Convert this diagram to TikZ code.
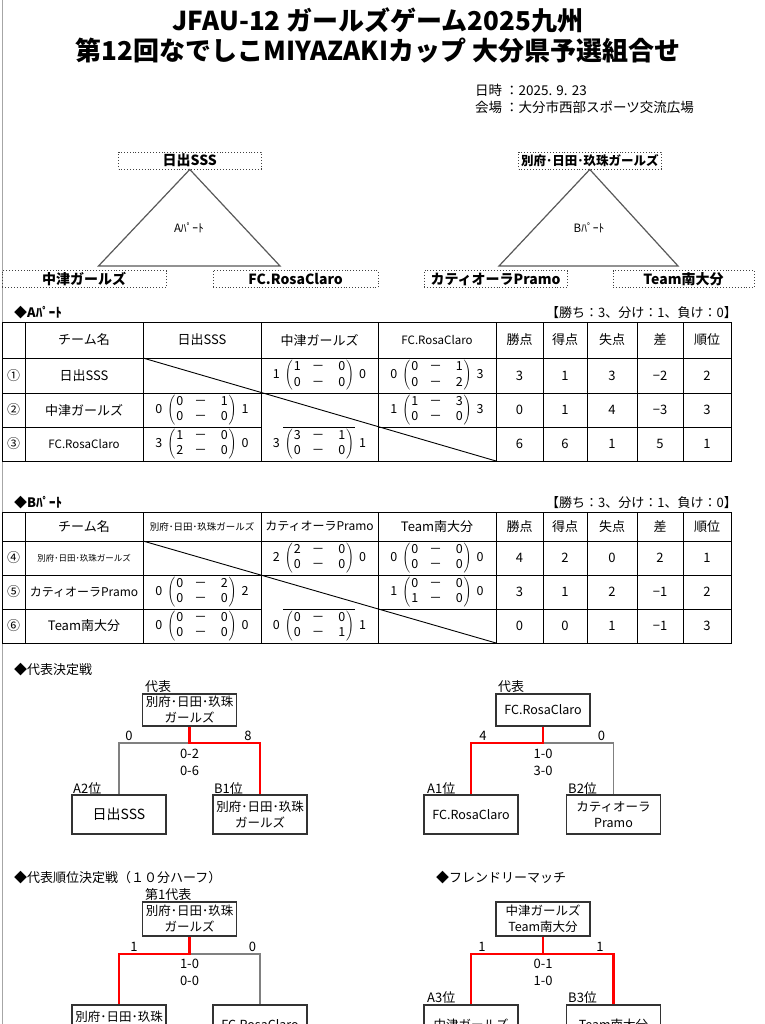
\documentclass[tikz,border=0pt]{standalone}
\usepackage{fontspec}
\setmainfont{Noto Sans CJK JP}
\newcommand\fsz[1]{\fontsize{#1pt}{#1pt}\selectfont}
% score cell: total (a - b / c - d) total
\newcommand\mscore[6]{#1\hspace{5pt}$\left(\begin{tabular}{@{\hspace{1pt}}c@{\hspace{11pt}}c@{\hspace{14pt}}c@{\hspace{1pt}}}#2&－&#3\\#4&－&#5\end{tabular}\right)$\hspace{5pt}#6}
\begin{document}
\begin{tikzpicture}
[
	x=1pt,y=-1pt,
	tm/.style={rectangle,draw=black!75,dotted,line width=0.9pt,minimum height=17pt,inner sep=0pt,font=\fsz{14}\bfseries},
	bx/.style={rectangle,draw=black!80,line width=1.1pt,minimum width=94pt,inner sep=0pt,align=center,font=\fontsize{12.5pt}{16pt}\selectfont},
	tx/.style={inner sep=0pt,font=\fsz{13}},
	sm/.style={inner sep=0pt,font=\fsz{11.5}},
	scr/.style={inner sep=0pt,font=\fontsize{12.5pt}{15.5pt}\selectfont},
	hd/.style={inner sep=0pt,anchor=west,font=\fsz{13}\bfseries},
	tri/.style={draw=black!65,line width=1.2pt},
	gl/.style={draw=black!50,line width=1.6pt},
	rl/.style={draw=red,line width=2.6pt},
	tl/.style={line width=0.9pt}
]

\useasboundingbox (0,0) rectangle (764,1024);
\fill[white] (0,0) rectangle (764,1024);
\draw[black!35,line width=0.8pt] (2,0) -- (2,1024);

% title
\node[font=\fsz{26}\bfseries] (ttl1) at (378,20) {JFAU-12 ガールズゲーム2025九州};
\node[font=\fsz{26}\bfseries] (ttl2) at (378,51) {第12回なでしこMIYAZAKIカップ 大分県予選組合せ};
\node[anchor=west,inner sep=0pt,font=\fontsize{13.5pt}{17pt}\selectfont] (info) at (475,101)
	{\begin{tabular}{@{}l@{\ }l@{}}日時&：2025. 9. 23\\会場&：大分市西部スポーツ交流広場\end{tabular}};

% triangles
\node[tm,minimum width=142.5pt] (a1) at (189.8,160.5) {日出SSS};
\node[tm,minimum width=163.5pt] (a2) at (84.2,279) {中津ガールズ};
\node[tm,minimum width=165pt] (a3) at (295.5,279) {FC.RosaClaro};
\draw[tri] (a1.south) -- (98.5,266) -- (280,266) -- cycle;
\node[sm] (pa) at (189,228) {Aﾊﾟｰﾄ};

\node[tm,minimum width=142.5pt,font=\fsz{12.5}\bfseries] (b1) at (589.8,160.5) {別府･日田･玖珠ガールズ};
\node[tm,minimum width=143pt] (b2) at (495.5,279) {カティオーラPramo};
\node[tm,minimum width=141pt] (b3) at (683.5,279) {Team南大分};
\draw[tri] (b1.south) -- (499,266) -- (678,266) -- cycle;
\node[sm] (pb) at (589,228) {Bﾊﾟｰﾄ};

% table A
\node[hd] (ha) at (14,313) {◆Aﾊﾟｰﾄ};
\node[tx,anchor=east] (ra) at (737,313) {【勝ち：3、分け：1、負け：0】};

\draw[tl] (2,322) rectangle (731,461);
\draw[tl] (2,358) -- (731,358);
\draw[tl] (2,393) -- (731,393);
\draw[tl] (2,427) -- (261,427);
\draw[tl] (283,427) -- (355,427);
\draw[tl] (378,427) -- (731,427);
\draw[tl] (25,322) -- (25,461);
\draw[tl] (143,322) -- (143,461);
\draw[tl] (261,322) -- (261,461);
\draw[tl] (378,322) -- (378,461);
\draw[tl] (496,322) -- (496,461);
\draw[tl] (543,322) -- (543,461);
\draw[tl] (587,322) -- (587,461);
\draw[tl] (637,322) -- (637,461);
\draw[tl] (683,322) -- (683,461);
\draw[tl] (143,358) -- (496,461);

\node[tx] (a00) at (84,340) {チーム名};
\node[tx] (a01) at (202,340) {日出SSS};
\node[tx] (a02) at (319.5,340) {中津ガールズ};
\node[sm] (a03) at (437,340) {FC.RosaClaro};
\node[tx] (a04) at (519.5,340) {勝点};
\node[tx] (a05) at (565,340) {得点};
\node[tx] (a06) at (612,340) {失点};
\node[tx] (a07) at (660,340) {差};
\node[tx] (a08) at (707,340) {順位};

\node[tx] (a10) at (13.5,375.5) {①};
\node[tx] (a11) at (84,375.5) {日出SSS};
\node[scr] (a13) at (319.5,375.5) {\mscore{1}{1}{0}{0}{0}{0}};
\node[scr] (a14) at (437,375.5) {\mscore{0}{0}{1}{0}{2}{3}};
\node[tx] (a15) at (519.5,375.5) {3};
\node[tx] (a16) at (565,375.5) {1};
\node[tx] (a17) at (612,375.5) {3};
\node[tx] (a18) at (660,375.5) {−2};
\node[tx] (a19) at (707,375.5) {2};

\node[tx] (a20) at (13.5,410) {②};
\node[tx] (a21) at (84,410) {中津ガールズ};
\node[scr] (a22) at (202,410) {\mscore{0}{0}{1}{0}{0}{1}};
\node[scr] (a24) at (437,410) {\mscore{1}{1}{3}{0}{0}{3}};
\node[tx] (a25) at (519.5,410) {0};
\node[tx] (a26) at (565,410) {1};
\node[tx] (a27) at (612,410) {4};
\node[tx] (a28) at (660,410) {−3};
\node[tx] (a29) at (707,410) {3};

\node[tx] (a30) at (13.5,444) {③};
\node[sm] (a31) at (84,444) {FC.RosaClaro};
\node[scr] (a32) at (202,444) {\mscore{3}{1}{0}{2}{0}{0}};
\node[scr] (a33) at (319.5,444) {\mscore{3}{3}{1}{0}{0}{1}};
\node[tx] (a35) at (519.5,444) {6};
\node[tx] (a36) at (565,444) {6};
\node[tx] (a37) at (612,444) {1};
\node[tx] (a38) at (660,444) {5};
\node[tx] (a39) at (707,444) {1};

% table B
\node[hd] (hb) at (14,503) {◆Bﾊﾟｰﾄ};
\node[tx,anchor=east] (rb) at (737,503) {【勝ち：3、分け：1、負け：0】};

\draw[tl] (2,512) rectangle (731,643);
\draw[tl] (2,541) -- (731,541);
\draw[tl] (2,575) -- (731,575);
\draw[tl] (2,609) -- (261,609);
\draw[tl] (283,609) -- (355,609);
\draw[tl] (378,609) -- (731,609);
\draw[tl] (25,512) -- (25,643);
\draw[tl] (143,512) -- (143,643);
\draw[tl] (261,512) -- (261,643);
\draw[tl] (378,512) -- (378,643);
\draw[tl] (496,512) -- (496,643);
\draw[tl] (543,512) -- (543,643);
\draw[tl] (587,512) -- (587,643);
\draw[tl] (637,512) -- (637,643);
\draw[tl] (683,512) -- (683,643);
\draw[tl] (143,541) -- (496,643);

\node[tx] (b00) at (84,526.5) {チーム名};
\node[inner sep=0pt,font=\fsz{9.5}] (b01) at (202,526.5) {別府･日田･玖珠ガールズ};
\node[inner sep=0pt,font=\fsz{12}] (b02) at (319.5,526.5) {カティオーラPramo};
\node[tx] (b03) at (437,526.5) {Team南大分};
\node[tx] (b04) at (519.5,526.5) {勝点};
\node[tx] (b05) at (565,526.5) {得点};
\node[tx] (b06) at (612,526.5) {失点};
\node[tx] (b07) at (660,526.5) {差};
\node[tx] (b08) at (707,526.5) {順位};

\node[tx] (b10) at (13.5,558) {④};
\node[inner sep=0pt,font=\fsz{8.5}] (b11) at (84,558) {別府･日田･玖珠ガールズ};
\node[scr] (b13) at (319.5,558) {\mscore{2}{2}{0}{0}{0}{0}};
\node[scr] (b14) at (437,558) {\mscore{0}{0}{0}{0}{0}{0}};
\node[tx] (b15) at (519.5,558) {4};
\node[tx] (b16) at (565,558) {2};
\node[tx] (b17) at (612,558) {0};
\node[tx] (b18) at (660,558) {2};
\node[tx] (b19) at (707,558) {1};

\node[tx] (b20) at (13.5,592) {⑤};
\node[inner sep=0pt,font=\fsz{12}] (b21) at (84,592) {カティオーラPramo};
\node[scr] (b22) at (202,592) {\mscore{0}{0}{2}{0}{0}{2}};
\node[scr] (b24) at (437,592) {\mscore{1}{0}{0}{1}{0}{0}};
\node[tx] (b25) at (519.5,592) {3};
\node[tx] (b26) at (565,592) {1};
\node[tx] (b27) at (612,592) {2};
\node[tx] (b28) at (660,592) {−1};
\node[tx] (b29) at (707,592) {2};

\node[tx] (b30) at (13.5,626) {⑥};
\node[tx] (b31) at (84,626) {Team南大分};
\node[scr] (b32) at (202,626) {\mscore{0}{0}{0}{0}{0}{0}};
\node[scr] (b33) at (319.5,626) {\mscore{0}{0}{0}{0}{1}{1}};
\node[tx] (b35) at (519.5,626) {0};
\node[tx] (b36) at (565,626) {0};
\node[tx] (b37) at (612,626) {1};
\node[tx] (b38) at (660,626) {−1};
\node[tx] (b39) at (707,626) {3};

% representative matches
\node[tx,anchor=west] (h1) at (14,670) {◆代表決定戦};

\node[bx,minimum height=32pt] (k1) at (189.5,710) {別府･日田･玖珠\\ガールズ};
\node[bx,minimum height=39pt,font=\fsz{14}] (k2) at (119,814.5) {日出SSS};
\node[bx,minimum height=39pt] (k3) at (260,814.5) {別府･日田･玖珠\\ガールズ};
\coordinate (j1) at (189.5,743);
\draw[gl] (j1) -| (k2.north);
\draw[rl] (k1.south) -- (j1) -| (k3.north);
\node[tx,anchor=west] (l1) at (145,687) {代表};
\node[tx] (s1) at (129,736) {0};
\node[tx] (s2) at (248,736) {8};
\node[tx] (s3) at (189.5,754) {0-2};
\node[tx] (s4) at (189.5,771) {0-6};
\node[tx,anchor=west] (l2) at (73,789) {A2位};
\node[tx,anchor=west] (l3) at (214,789) {B1位};

\node[bx,minimum height=32pt] (k4) at (543,710) {FC.RosaClaro};
\node[bx,minimum height=39pt] (k5) at (471,814.5) {FC.RosaClaro};
\node[bx,minimum height=39pt] (k6) at (613.5,814.5) {カティオーラ\\Pramo};
\coordinate (j2) at (543,743);
\draw[gl] (j2) -| (k6.north);
\draw[rl] (k4.south) -- (j2) -| (k5.north);
\node[tx,anchor=west] (l4) at (498,687) {代表};
\node[tx] (s5) at (483,736) {4};
\node[tx] (s6) at (601.5,736) {0};
\node[tx] (s7) at (543,754) {1-0};
\node[tx] (s8) at (543,771) {3-0};
\node[tx,anchor=west] (l5) at (427,789) {A1位};
\node[tx,anchor=west] (l6) at (568,789) {B2位};

% placing match and friendly match
\node[tx,anchor=west] (h2) at (14,878) {◆代表順位決定戦（１０分ハーフ）};
\node[tx,anchor=west] (h3) at (436,878) {◆フレンドリーマッチ};

\node[bx,minimum height=34pt] (k7) at (189.5,919) {別府･日田･玖珠\\ガールズ};
\node[bx,minimum height=39pt] (k8) at (119,1024.5) {別府･日田･玖珠\\ガールズ};
\node[bx,minimum height=39pt] (k9) at (260,1024.5) {FC.RosaClaro};
\coordinate (j3) at (189.5,954);
\draw[gl] (j3) -| (k9.north);
\draw[rl] (k7.south) -- (j3) -| (k8.north);
\node[tx,anchor=west] (l7) at (145,895) {第1代表};
\node[tx] (s9) at (134,947) {1};
\node[tx] (s10) at (252.5,947) {0};
\node[tx] (s11) at (189.5,964) {1-0};
\node[tx] (s12) at (189.5,981) {0-0};

\node[bx,minimum height=34pt] (k10) at (543,919) {中津ガールズ\\Team南大分};
\node[bx,minimum height=39pt] (k11) at (471,1024.5) {中津ガールズ};
\node[bx,minimum height=39pt] (k12) at (613.5,1024.5) {Team南大分};
\coordinate (j4) at (543,954);
\draw[rl] (k10.south) -- (j4) -| (k11.north);
\draw[rl] (j4) -| (k12.north);
\node[tx] (s13) at (482,947) {1};
\node[tx] (s14) at (600,947) {1};
\node[tx] (s15) at (543,964) {0-1};
\node[tx] (s16) at (543,981) {1-0};
\node[tx,anchor=west] (l8) at (427,998) {A3位};
\node[tx,anchor=west] (l9) at (568,998) {B3位};

\end{tikzpicture}
\end{document}
